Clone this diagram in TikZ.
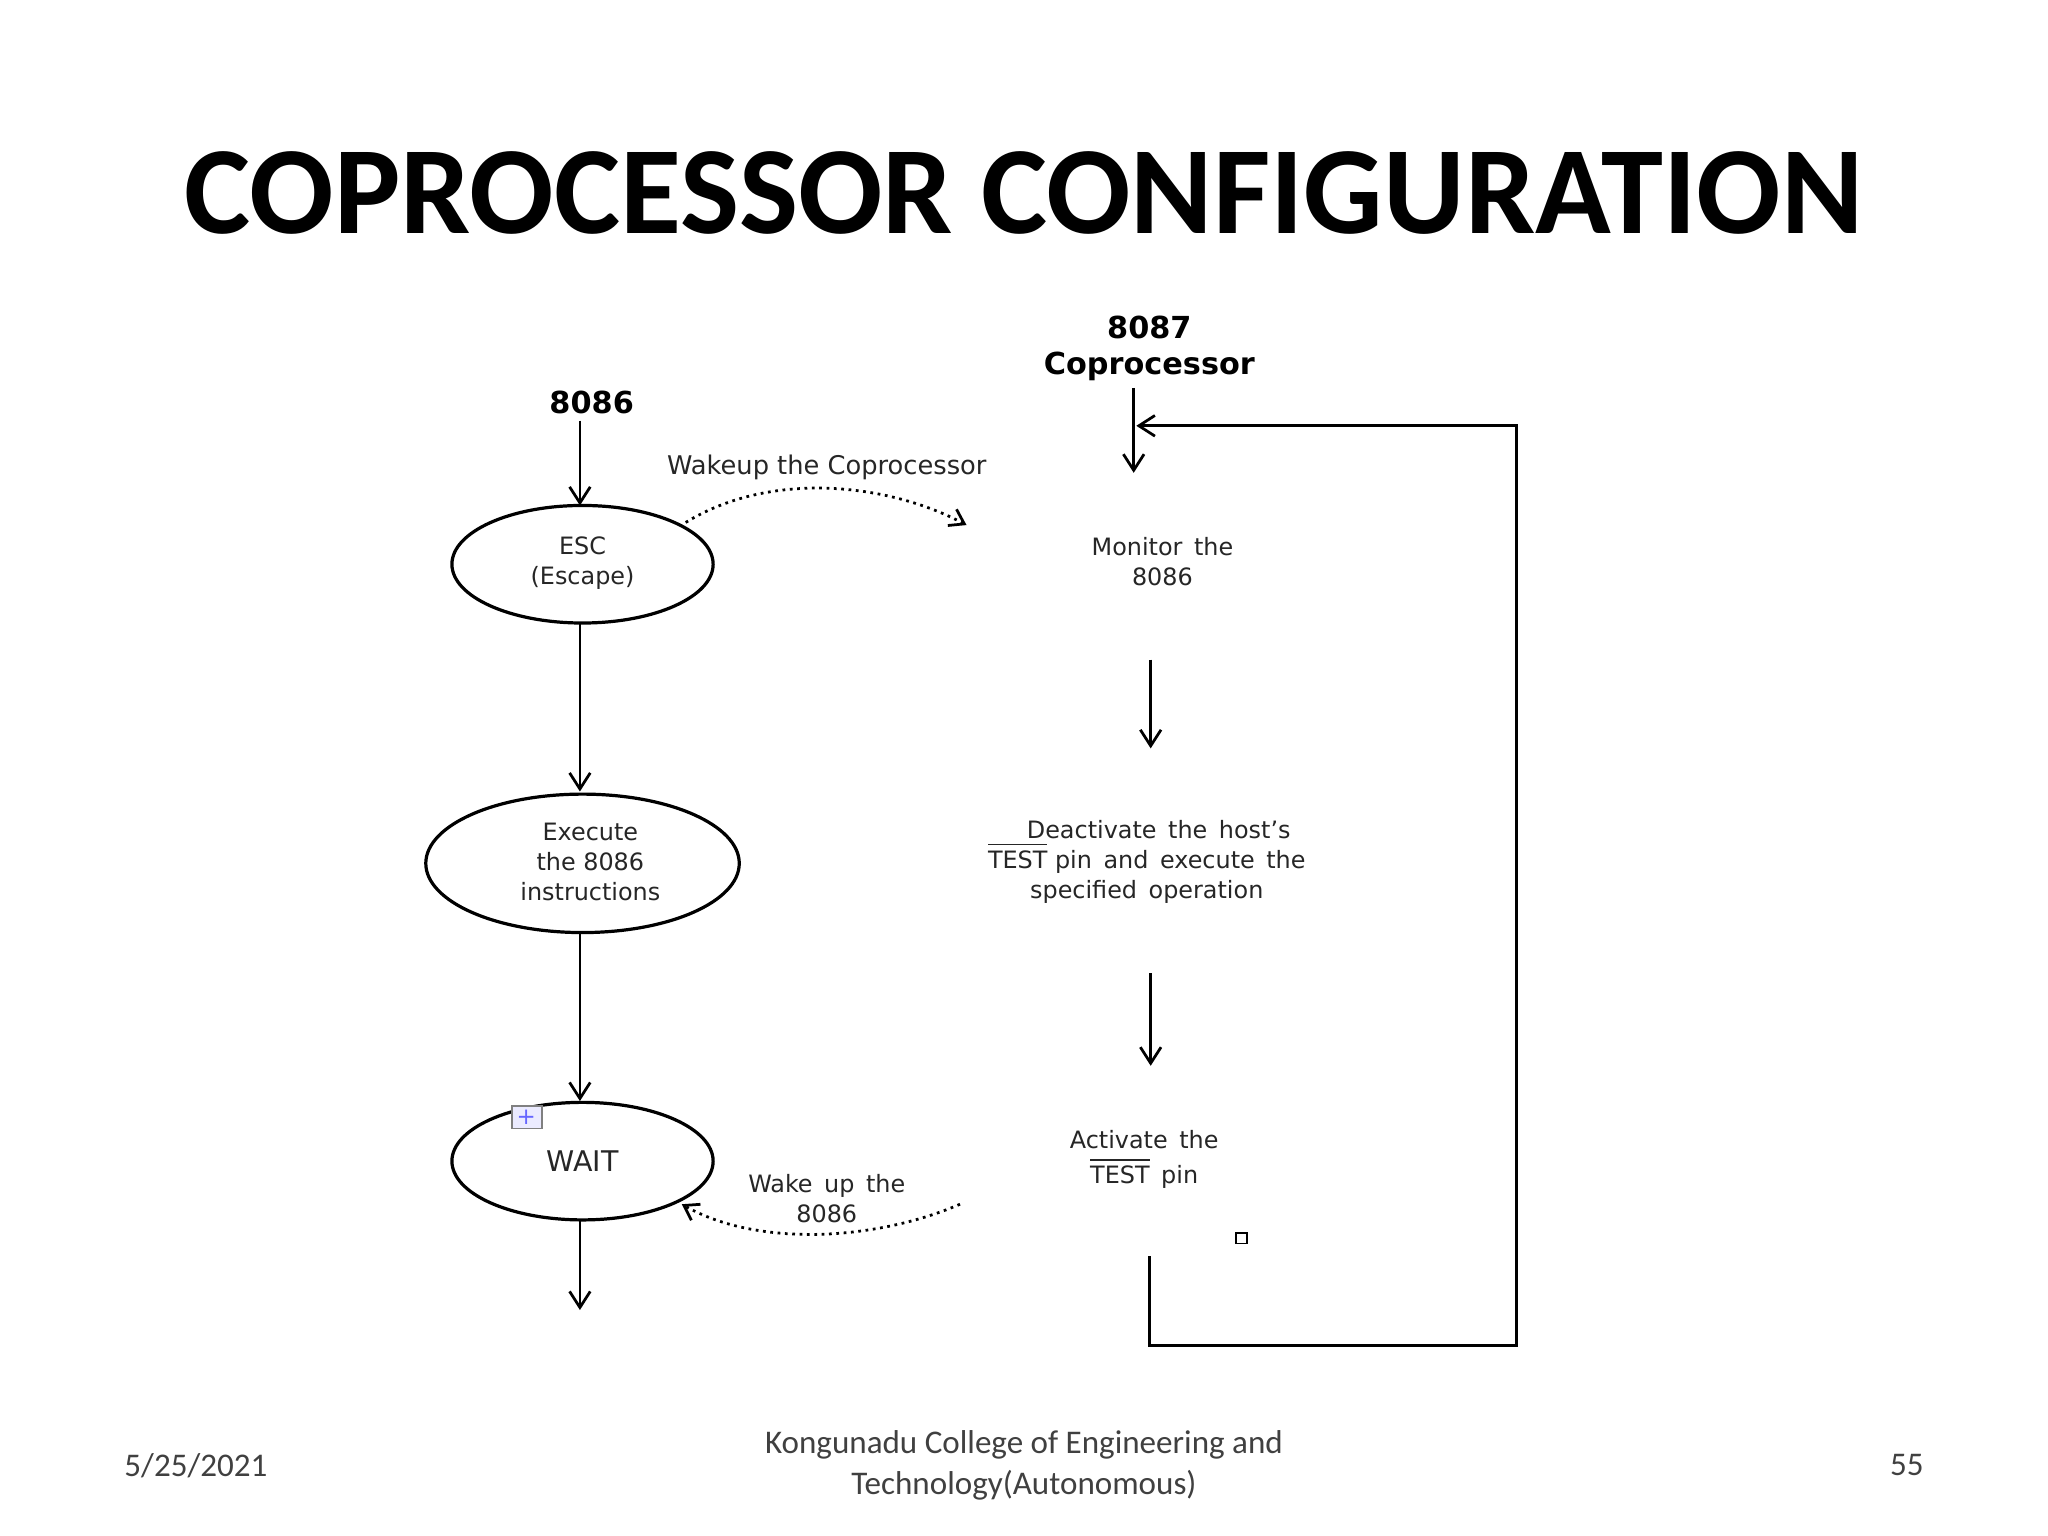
\documentclass[tikz,border=0pt]{standalone}
\usepackage{fontspec}
\setmainfont{DejaVu Sans}
\newfontfamily\carlitofont{Carlito}
\usetikzlibrary{arrows.meta}
\begin{document}
\begin{tikzpicture}[x=0.01cm,y=-0.01cm,
  arr/.style={-{Straight Barb[length=3.5pt,width=4.5pt]},line width=0.6pt},
  ell/.style={draw,line width=0.7pt},
  lbl/.style={font=\fontsize{5.2pt}{6.5pt}\selectfont,align=center,text=black!85},
  hd/.style={font=\fontsize{6.6pt}{7.8pt}\selectfont\bfseries,align=center},
  dot/.style={densely dotted,line width=0.6pt,-{Straight Barb[length=3pt,width=4pt]}}]
\useasboundingbox (0,0) rectangle (1568,1176);
\node[font=\carlitofont\fontsize{27.2pt}{32pt}\selectfont\bfseries] (title) at (784,148) {COPROCESSOR CONFIGURATION};
\node[hd] (h1) at (453,308) {8086};
\node[hd] (h2) at (880,267) {8087\\Coprocessor};
\draw[ell] (446,432) ellipse [x radius=100,y radius=45];
\node[lbl] (esc) at (446,431) {ESC\\(Escape)};
\draw[ell] (446,661) ellipse [x radius=120,y radius=53];
\node[lbl] (exe) at (452,660) {Execute\\the 8086\\instructions};
\draw[ell] (446,889) ellipse [x radius=100,y radius=45];
\node[lbl,font=\fontsize{6.2pt}{8pt}\selectfont] (wait) at (446,889) {WAIT};
\draw[arr] (444,322) -- (444,387);
\draw[arr] (444,477) -- (444,606);
\draw[arr] (444,714) -- (444,843);
\draw[arr] (444,934) -- (444,1003);
\draw[draw=gray,fill=blue!8,line width=0.4pt] (392,847) rectangle (415,864);
\node[font=\fontsize{5pt}{5pt}\selectfont,text=blue!60] at (403,855.5) {+};
\node[lbl,font=\fontsize{5.6pt}{7pt}\selectfont] (wk1) at (633,358) {Wakeup the Coprocessor};
\draw[dot] (525,400) .. controls (590,360) and (680,370) .. (740,402);
\node[lbl] (mon) at (890,430) {Monitor\, the\\8086};
\draw[arr] (868,297) -- (868,362);
\draw[arr] (881,505) -- (881,573);
\node[lbl] (deac) at (878,660) {\quad Deactivate\, the\, host's\\$\overline{\mbox{TEST}}$ pin\, and\, execute\, the\\specified\, operation};
\draw[arr] (881,745) -- (881,816);
\node[lbl,font=\fontsize{5.2pt}{7.6pt}\selectfont] (act) at (876,888) {Activate\, the\\$\overline{\mbox{TEST}}$\, pin};
\node[lbl] (wk2) at (633,918) {Wake\, up\, the\\8086};
\draw[dot] (735,922) .. controls (670,950) and (580,955) .. (522,922);
\draw[line width=0.4pt] (946,944) rectangle (955,952);
\draw[arr] (880,962) -- (880,1030) -- (1161,1030) -- (1161,326) -- (870,326);
\node[font=\carlitofont\fontsize{7.2pt}{9pt}\selectfont,text=black!75] (date) at (150,1122) {5/25/2021};
\node[font=\carlitofont\fontsize{7.2pt}{9pt}\selectfont,text=black!75,align=center] (coll) at (784,1122) {Kongunadu College of Engineering and\\Technology(Autonomous)};
\node[font=\carlitofont\fontsize{7.2pt}{9pt}\selectfont,text=black!75] (pg) at (1460,1122) {55};
\end{tikzpicture}
\end{document}
